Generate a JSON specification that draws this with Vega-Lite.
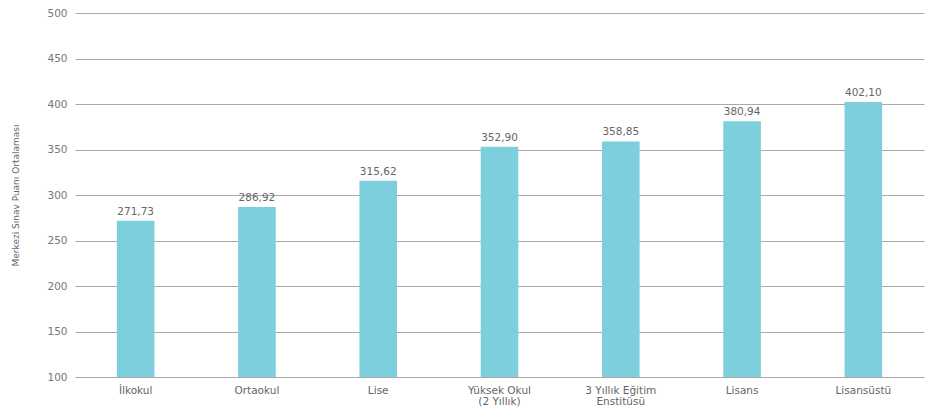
{
  "$schema": "https://vega.github.io/schema/vega-lite/v6.json",
  "width": 849,
  "height": 364,
  "autosize": {"type": "none"},
  "padding": {"left": 75, "top": 13, "right": 2, "bottom": 40},
  "config": {
    "locale": {"number": {"decimal": ",", "thousands": ".", "grouping": [3], "currency": ["", "₺"]}},
    "view": {"stroke": null},
    "font": "DejaVu Sans"
  },
  "data": {
    "values": [
      {"egitim": "İlkokul", "puan": 271.73},
      {"egitim": "Ortaokul", "puan": 286.92},
      {"egitim": "Lise", "puan": 315.62},
      {"egitim": "Yüksek Okul|(2 Yıllık)", "puan": 352.90},
      {"egitim": "3 Yıllık Eğitim|Enstitüsü", "puan": 358.85},
      {"egitim": "Lisans", "puan": 380.94},
      {"egitim": "Lisansüstü", "puan": 402.10}
    ]
  },
  "encoding": {
    "x": {
      "field": "egitim", "type": "nominal", "sort": null,
      "scale": {"paddingInner": 0.69, "paddingOuter": 0.345},
      "axis": {
        "title": null, "labelAngle": 0, "ticks": false, "domain": false,
        "labelExpr": "split(datum.label, '|')",
        "labelColor": "#666", "labelFontSize": 10.5, "labelPadding": 8, "labelLineHeight": 11, "labelFont": "DejaVu Sans"
      }
    },
    "y": {
      "field": "puan", "type": "quantitative",
      "scale": {"domain": [100, 500], "zero": false, "nice": false},
      "axis": {
        "title": "Merkezi Sınav Puanı Ortalaması", "titleColor": "#666", "titleFontSize": 9, "titleFontWeight": "normal", "titlePadding": 26,
        "values": [100, 150, 200, 250, 300, 350, 400, 450, 500],
        "domain": false, "ticks": false, "labelPadding": 8,
        "labelColor": "#777", "labelFontSize": 10.5,
        "gridColor": "#aaa", "gridWidth": 1
      }
    }
  },
  "layer": [
    {
      "mark": {"type": "bar", "color": "#7dcfdd"},
      "encoding": {"y2": {"datum": 100}}
    },
    {
      "mark": {"type": "text", "dy": -9, "color": "#666", "fontSize": 10.5},
      "encoding": {"text": {"field": "puan", "type": "quantitative", "format": ".2f"}}
    }
  ]
}
